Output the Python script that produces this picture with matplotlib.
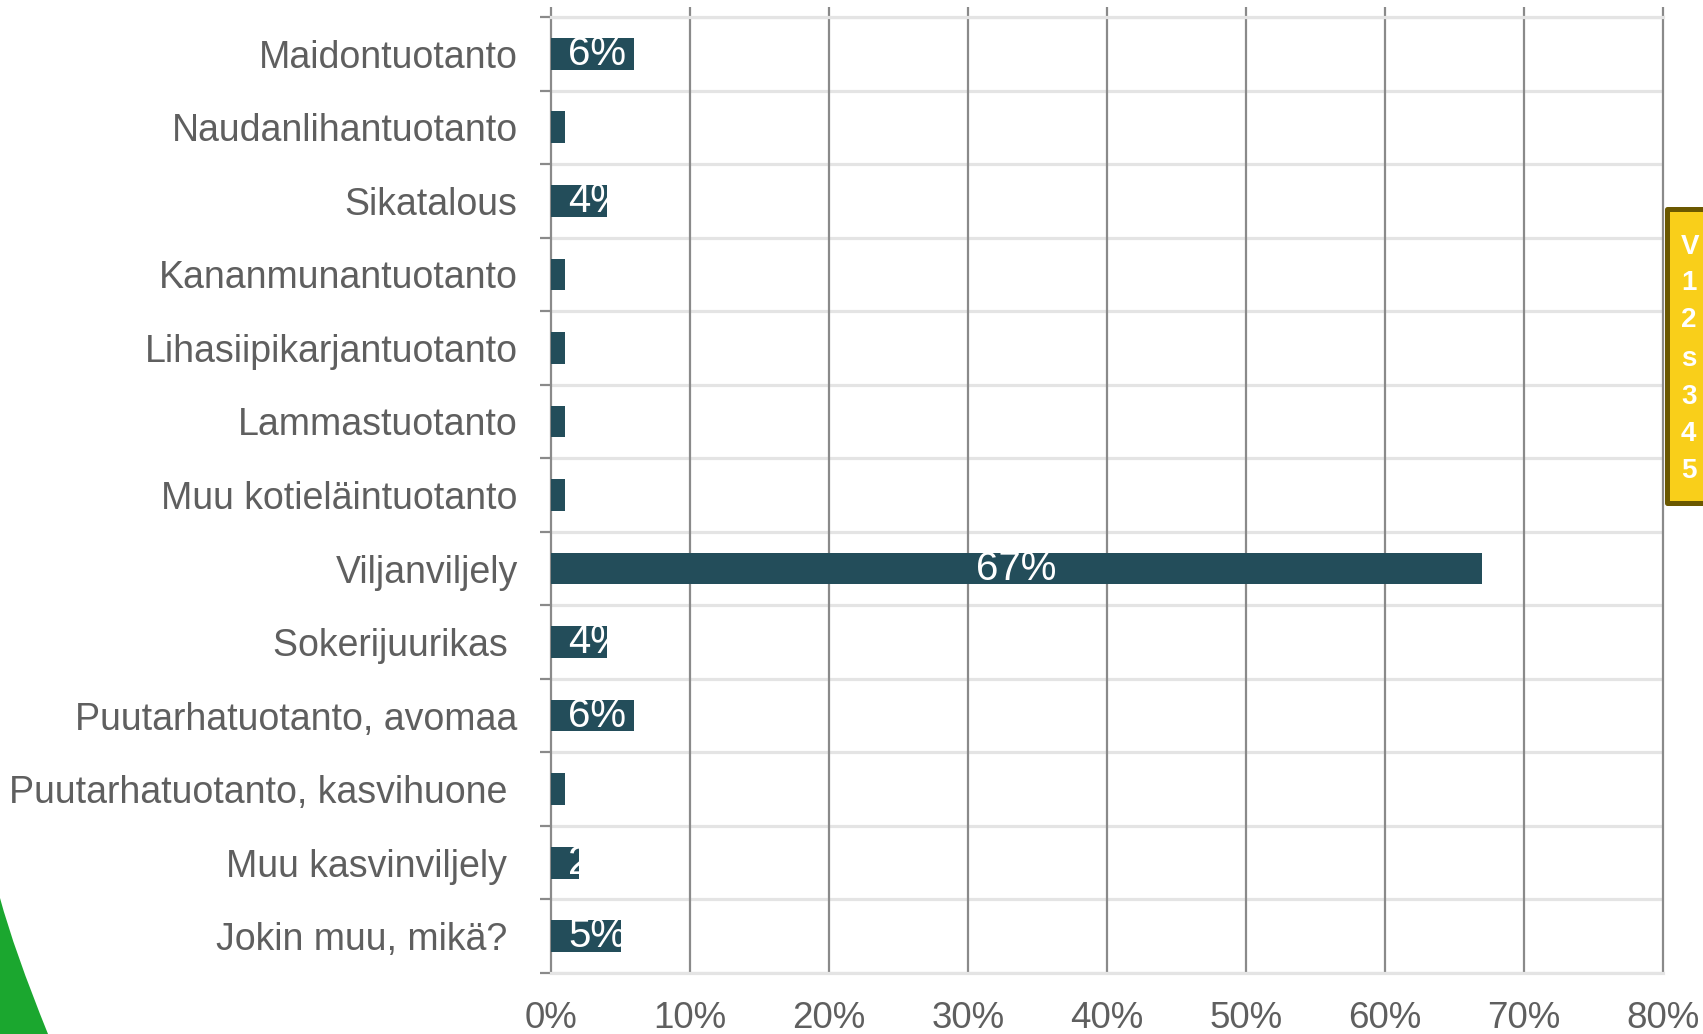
import matplotlib
matplotlib.use("Agg")
import matplotlib.pyplot as plt
from matplotlib.patches import Rectangle, PathPatch
from matplotlib.path import Path
import matplotlib.transforms as mtransforms
import numpy as np

categories = [
    "Maidontuotanto",
    "Naudanlihantuotanto",
    "Sikatalous",
    "Kananmunantuotanto",
    "Lihasiipikarjantuotanto",
    "Lammastuotanto",
    "Muu kotieläintuotanto",
    "Viljanviljely",
    "Sokerijuurikas ",
    "Puutarhatuotanto, avomaa",
    "Puutarhatuotanto, kasvihuone ",
    "Muu kasvinviljely ",
    "Jokin muu, mikä? ",
]
values = [6, 1, 4, 1, 1, 1, 1, 67, 4, 6, 1, 2, 5]
value_labels = ["6%", "1%", "4%", "1%", "1%", "1%", "1%", "67%", "4%", "6%", "1%", "2%", "5%"]
xticks = [0, 10, 20, 30, 40, 50, 60, 70, 80]
xtick_labels = ["0%", "10%", "20%", "30%", "40%", "50%", "60%", "70%", "80%"]
box_lines = ["V", "1", "2", "s", "3", "4", "5"]

plt.rcParams["font.family"] = ["Liberation Sans", "DejaVu Sans"]

W, H = 1703, 1034
fig = plt.figure(figsize=(W / 100, H / 100), dpi=100)
fig.patch.set_facecolor("white")

left, right, top, bottom = 551, 1663, 17, 973
ax = fig.add_axes([left / W, 1 - bottom / H, (right - left) / W, (bottom - top) / H])

text_col = "#5f5f5f"
bar_col = "#234d5a"
vgrid_col = "#8a8a8a"
hgrid_col = "#e4e4e4"

y = np.arange(len(categories))
bars = ax.barh(y, values, height=0.43, color=bar_col, zorder=3)
ax.set_xlim(0, 80)
ax.set_ylim(len(categories) - 0.5, -0.5)

ax.set_xticks(xticks)
ax.set_xticklabels(xtick_labels)
for xv in xticks[1:-1]:
    ax.axvline(xv, color=vgrid_col, lw=1.6, zorder=1)
for b in np.arange(-0.5, len(categories), 1.0):
    ax.axhline(b, color=hgrid_col, lw=2.3, zorder=0.5)

ax.set_yticks(y)
ax.set_yticklabels(categories)
ax.set_yticks(np.arange(-0.5, len(categories), 1.0), minor=True)

ax.tick_params(axis="y", which="major", length=0, pad=24, labelsize=27, labelcolor=text_col)
ax.tick_params(axis="y", which="minor", length=8, width=1.6, color=vgrid_col, direction="out")
ax.tick_params(axis="x", which="major", bottom=False, top=True, labelbottom=True, labeltop=False,
               length=7.2, width=1.6, color=vgrid_col, direction="out",
               labelsize=26.5, labelcolor=text_col, pad=13)

for s in ["left", "right"]:
    ax.spines[s].set_color(vgrid_col)
    ax.spines[s].set_linewidth(1.6)
for s in ["top", "bottom"]:
    ax.spines[s].set_color(hgrid_col)
    ax.spines[s].set_linewidth(2.3)

off = mtransforms.ScaledTranslation(17 / 100, 0, fig.dpi_scale_trans)
for rect, v, lab in zip(bars, values, value_labels):
    cy = rect.get_y() + rect.get_height() / 2
    if v > 20:
        t = ax.text(v / 2, cy, lab, ha="center", va="center", color="white", fontsize=29, zorder=4)
    else:
        t = ax.text(0, cy, lab, ha="left", va="center", color="white", fontsize=29, zorder=4,
                    transform=ax.transData + off)
    t.set_clip_path(rect)

px = lambda x0, y0: (x0 / W, 1 - y0 / H)
bx0, by0, bx1, by1 = 1667, 209, 1780, 503
box = Rectangle(px(bx0, by1), (bx1 - bx0) / W, (by1 - by0) / H, transform=fig.transFigure,
                facecolor="#f9cf1a", edgecolor="#6b5800", lw=3.6, joinstyle="round", zorder=5)
fig.add_artist(box)
line_y = [247, 283, 320, 359, 397, 434, 471]
for ly, s in zip(line_y, box_lines):
    fig.text(1681 / W, 1 - ly / H, s, color="white", fontsize=20, fontweight="bold",
             va="center", ha="left", zorder=6)

verts = [px(0, 898), px(14, 950), px(48, 1034), px(0, 1034), px(0, 898)]
codes = [Path.MOVETO, Path.CURVE3, Path.CURVE3, Path.LINETO, Path.CLOSEPOLY]
green = PathPatch(Path(verts, codes), transform=fig.transFigure, facecolor="#1ba72f",
                  edgecolor="none", zorder=5)
fig.add_artist(green)

fig.savefig("out.png", dpi=100)
